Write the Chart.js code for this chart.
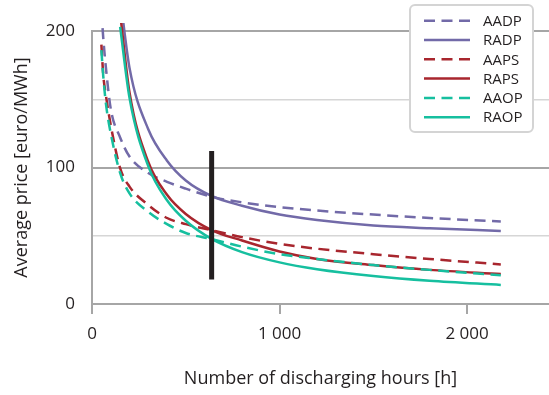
<!DOCTYPE html>
<html>
<head>
<meta charset="utf-8">
<script src="https://cdn.jsdelivr.net/npm/chart.js@4/dist/chart.umd.min.js"></script>
<style>
  body { margin: 0; background: #fff; }
</style>
</head>
<body>
<canvas id="prix" width="549" height="395"></canvas>
<script>
// heures de décharge (axe x) et prix moyens
const dashHours = [50, 60, 75, 100, 150, 200, 300, 400, 500, 640, 800, 1000, 1200, 1500, 1800, 2180]
const solidHours = [150, 200, 300, 400, 500, 640, 800, 1000, 1200, 1500, 1800, 2180]

const aadp = [215, 195, 172, 143, 122, 108, 96, 89.5, 84.5, 78.5, 74.5, 71, 68.5, 65.5, 63, 60.5]
const radp = [225, 173, 128, 105, 90.5, 79, 72, 65.5, 61.5, 57.5, 55.5, 53.5]
const aaps = [190, 168, 152, 131, 99.5, 86, 72.5, 63, 58.5, 54, 49, 44, 40.5, 36.5, 33, 29]
const raps = [213, 155, 104, 80, 66, 54, 46.5, 38.5, 33, 28.5, 25, 22]
const aaop = [186, 167, 146, 125, 96, 81, 67.5, 58.5, 52, 47.5, 42, 36.5, 33, 28.5, 25, 21]
const raop = [203, 151, 101, 76, 61, 47.5, 38, 30.5, 25.5, 20.5, 17, 14]

const barHours = [638, 638]
const barPrice = [18, 112]

const xTicks = [0, 1000, 2000]
const xLabels = ["0", "1 000", "2 000"]
const yTicks = [0, 50, 100, 150, 200]
const yLabels = {0: "0", 100: "100", 200: "200"}

const violet = "#726aa8"
const rouge = "#a8262e"
const turquoise = "#16bf9f"
const texte = "#231f20"
const police = "'Open Sans', sans-serif"

const points = (heures, prix) => heures.map((h, i) => ({x: h, y: prix[i]}))

const serie = (label, heures, prix, couleur, tirets, ordre) => ({
    label: label,
    data: points(heures, prix),
    borderColor: couleur,
    borderWidth: 2.5,
    borderDash: tirets ? [11, 6.5] : [],
    pointRadius: 0,
    cubicInterpolationMode: 'monotone',
    clip: {left: 5, top: 8, right: 5, bottom: 5},
    order: ordre
})

// légende dessinée à la main, par-dessus la zone du graphique
const legendePlugin = {
    id: 'legende',
    afterDraw(chart) {
        const ctx = chart.ctx
        ctx.save()
        ctx.beginPath()
        ctx.roundRect(410, 5, 123, 127, 5)
        ctx.fillStyle = "#fff"
        ctx.fill()
        ctx.strokeStyle = "#d4d4d4"
        ctx.lineWidth = 2
        ctx.stroke()
        const series = chart.data.datasets.filter(d => d.label)
        series.forEach((d, i) => {
            const y = 20.7 + i * 19.3
            ctx.beginPath()
            ctx.setLineDash(d.borderDash)
            ctx.strokeStyle = d.borderColor
            ctx.lineWidth = 2.5
            ctx.moveTo(424, y)
            ctx.lineTo(470, y)
            ctx.stroke()
            ctx.setLineDash([])
            ctx.fillStyle = texte
            ctx.font = "15px " + police
            ctx.textBaseline = "middle"
            ctx.fillText(d.label, 483, y + 1)
        })
        ctx.restore()
    }
}

new Chart(document.getElementById('prix'), {
    type: 'line',
    data: {
        datasets: [
            {
                label: '',
                data: points(barHours, barPrice),
                borderColor: texte,
                borderWidth: 5,
                pointRadius: 0,
                borderCapStyle: 'butt',
                order: 0
            },
            serie('AADP', dashHours, aadp, violet, true, 6),
            serie('RADP', solidHours, radp, violet, false, 5),
            serie('AAPS', dashHours, aaps, rouge, true, 4),
            serie('RAPS', solidHours, raps, rouge, false, 3),
            serie('AAOP', dashHours, aaop, turquoise, true, 2),
            serie('RAOP', solidHours, raop, turquoise, false, 1)
        ]
    },
    options: {
        responsive: false,
        animation: false,
        devicePixelRatio: 1,
        layout: {padding: {top: 31, right: 0, left: 0, bottom: 0}},
        plugins: {
            legend: {display: false},
            tooltip: {enabled: false}
        },
        scales: {
            x: {
                type: 'linear',
                min: 0,
                max: 2437,
                afterBuildTicks: s => { s.ticks = xTicks.map(v => ({value: v})) },
                afterFit: s => { s.height = 91 },
                border: {color: "#a6a6a6", width: 2},
                grid: {drawOnChartArea: false, drawTicks: true, tickLength: 10, color: "#a6a6a6", lineWidth: 2},
                ticks: {
                    color: texte,
                    font: {family: police, size: 17},
                    padding: 10,
                    maxRotation: 0,
                    callback: v => xLabels[xTicks.indexOf(v)]
                },
                title: {
                    display: true,
                    text: 'Number of discharging hours [h]',
                    color: texte,
                    font: {family: police, size: 18},
                    padding: {top: 0, bottom: 5}
                }
            },
            y: {
                min: 0,
                max: 200,
                afterBuildTicks: s => { s.ticks = yTicks.map(v => ({value: v})) },
                afterFit: s => { s.width = 92 },
                border: {color: "#a6a6a6", width: 2},
                grid: {
                    drawTicks: false,
                    color: c => c.tick.value % 100 === 0 ? "#a6a6a6" : "#d6d6d6",
                    lineWidth: c => c.tick.value % 100 === 0 ? 2 : 1.5
                },
                ticks: {
                    color: texte,
                    font: {family: police, size: 17},
                    padding: 17,
                    callback: v => yLabels[v] || ''
                },
                title: {
                    display: true,
                    text: 'Average price [euro/MWh]',
                    color: texte,
                    font: {family: police, size: 18},
                    padding: {top: 11, bottom: 0}
                }
            }
        }
    },
    plugins: [legendePlugin]
})
</script>
</body>
</html>
